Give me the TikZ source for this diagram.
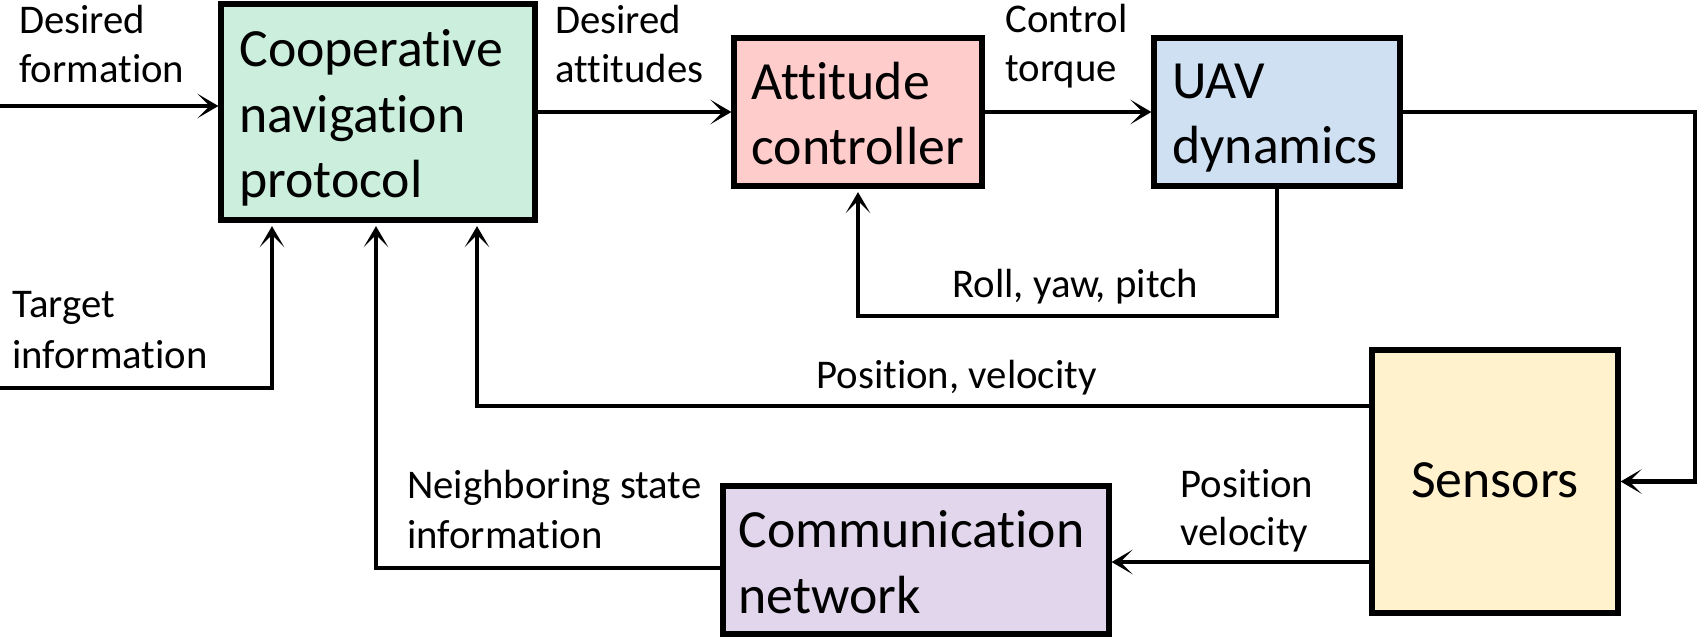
\documentclass[tikz,border=0pt]{standalone}
\usepackage{fontspec}
\setmainfont[Ligatures=NoCommon]{Carlito}
\usetikzlibrary{arrows.meta}
\definecolor{cgreen}{RGB}{204,238,220}
\definecolor{cred}{RGB}{255,204,204}
\definecolor{cblue}{RGB}{206,224,241}
\definecolor{cyellow}{RGB}{255,242,204}
\definecolor{cpurple}{RGB}{225,214,235}
\begin{document}
\begin{tikzpicture}[x=0.02cm,y=-0.02cm,
  blk/.style={draw=black, line width=3pt, inner sep=0pt},
  btxt/.style={font=\fontsize{30.6pt}{36pt}\selectfont, inner sep=0pt, anchor=base west},
  ltxt/.style={font=\fontsize{23.2pt}{27pt}\selectfont, inner sep=0pt, anchor=base west},
  arr/.style={line width=2.6pt, -{Stealth[length=12pt,width=14pt,inset=7pt]}},
  upgap/.style={shorten >=2pt}]
\useasboundingbox (0,0) rectangle (1700,638);
\fill[white] (0,0) rectangle (1700,638);

% blocks
\node[blk, fill=cgreen,  minimum width=6.28cm, minimum height=4.32cm] (green) at (378,112) {};
\node[blk, fill=cred,    minimum width=4.96cm, minimum height=2.96cm] (red)   at (858,112) {};
\node[blk, fill=cblue,   minimum width=4.92cm, minimum height=2.96cm] (blue)  at (1277,112) {};
\node[blk, fill=cyellow, minimum width=4.92cm, minimum height=5.26cm] (sens)  at (1495,481.5) {};
\node[blk, fill=cpurple, minimum width=7.72cm, minimum height=2.96cm] (comm)  at (916,560) {};

% block texts
\node[btxt] (coopA) at (239,67)  {Cooperative};
\node[btxt] (coopB) at (239,133) {navigation};
\node[btxt] (coopC) at (239,198) {protocol};
\node[btxt] (attA)  at (751,100) {Attitude};
\node[btxt] (attB)  at (751,165) {controller};
\node[btxt] (uavA)  at (1172,99) {UAV};
\node[btxt] (uavB)  at (1172,164) {dynamics};
\node[btxt, anchor=base] (sensT) at (1495,497) {Sensors};
\node[btxt] (comA)  at (738,547) {Communication};
\node[btxt] (comB)  at (738,613) {network};

% labels
\node[ltxt] (dfA) at (19,34)   {Desired};
\node[ltxt] (dfB) at (19,83)   {formation};
\node[ltxt] (daA) at (555,34)  {Desired};
\node[ltxt] (daB) at (555,83)  {attitudes};
\node[ltxt] (ctA) at (1005,33) {Control};
\node[ltxt] (ctB) at (1005,82) {torque};
\node[ltxt] (tiA) at (12,318)  {Target};
\node[ltxt] (tiB) at (12,369)  {information};
\node[ltxt] (rpl) at (952,298) {Roll, yaw, pitch};
\node[ltxt] (pvl) at (816,389) {Position, velocity};
\node[ltxt] (nsA) at (407,498) {Neighboring state};
\node[ltxt] (nsB) at (407,548) {information};
\node[ltxt] (psA) at (1180,497) {Position};
\node[ltxt] (psB) at (1180,545) {velocity};

% helper coordinates
\coordinate (dfin) at (0,106);
\coordinate (tin)  at (0,388);
\coordinate (tx)   at (272,388);
\coordinate (rp)   at (1000,316);
\coordinate (rc)   at (1695,112);
\coordinate (pv)   at (477,406);
\coordinate (sv)   at (1200,562);
\coordinate (nb)   at (376,568);

% connectors
\draw[arr] (dfin) -- (dfin -| green.west);
\draw[arr] (green.east) -- (red.west);
\draw[arr] (red.east) -- (blue.west);
\draw[arr] (blue.east) -- (rc) |- (sens.east);
\draw[arr, upgap] (blue.south) |- (rp) -| (red.south);
\draw[arr, upgap] (tin) -| (green.south -| tx);
\draw[arr, upgap] (sens.west |- pv) -| (green.south -| pv);
\draw[arr] (sens.west |- sv) -- (comm.east |- sv);
\draw[arr, upgap] (comm.west |- nb) -| (green.south -| nb);
\end{tikzpicture}
\end{document}
